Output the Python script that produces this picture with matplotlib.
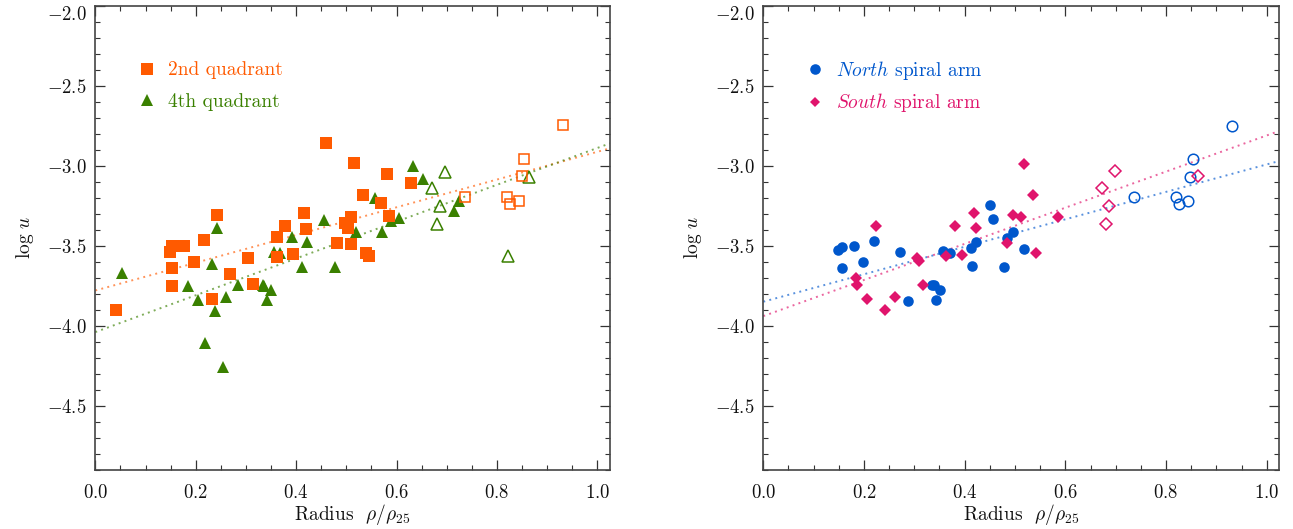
import numpy as np
import matplotlib
matplotlib.use('Agg')
import matplotlib.pyplot as plt
from matplotlib.ticker import MultipleLocator, FixedLocator, FuncFormatter
from matplotlib.lines import Line2D

plt.rcParams.update({
    'font.family': 'cmr10',
    'mathtext.fontset': 'cm',
    'axes.formatter.use_mathtext': True,
    'axes.unicode_minus': False,
})

# ---------------- data ----------------
# left panel: 2nd quadrant (filled / open squares)
q2_r = [0.042, 0.149, 0.153, 0.177, 0.153, 0.153, 0.197, 0.217, 0.243, 0.233,
        0.269, 0.305, 0.315, 0.361, 0.361, 0.378, 0.394, 0.416, 0.420, 0.460,
        0.482, 0.516, 0.580, 0.629, 0.534, 0.568, 0.510, 0.497, 0.504, 0.584,
        0.510, 0.540, 0.546]
q2_logu = [-3.904, -3.541, -3.500, -3.504, -3.641, -3.754, -3.604, -3.466, -3.310, -3.831,
           -3.679, -3.579, -3.741, -3.448, -3.569, -3.379, -3.554, -3.298, -3.394, -2.860,
           -3.485, -2.985, -3.054, -3.110, -3.185, -3.235, -3.323, -3.360, -3.391, -3.316,
           -3.491, -3.548, -3.566]
q2_open_r = [0.932, 0.854, 0.849, 0.736, 0.820, 0.826, 0.844]
q2_open_logu = [-2.748, -2.956, -3.066, -3.194, -3.194, -3.239, -3.223]

# left panel: 4th quadrant (filled / open triangles)
q4_r = [0.054, 0.185, 0.204, 0.219, 0.233, 0.239, 0.243, 0.260, 0.255, 0.284,
        0.333, 0.336, 0.349, 0.341, 0.356, 0.368, 0.391, 0.412, 0.422, 0.455,
        0.478, 0.632, 0.653, 0.557, 0.725, 0.714, 0.589, 0.605, 0.519, 0.571]
q4_logu = [-3.673, -3.750, -3.839, -4.110, -3.614, -3.906, -3.388, -3.819, -4.256, -3.746,
           -3.746, -3.752, -3.777, -3.839, -3.538, -3.548, -3.448, -3.631, -3.475, -3.339,
           -3.635, -3.000, -3.083, -3.202, -3.221, -3.283, -3.346, -3.327, -3.413, -3.414]
q4_open_r = [0.697, 0.671, 0.687, 0.680, 0.821, 0.863]
q4_open_logu = [-3.038, -3.141, -3.250, -3.366, -3.564, -3.069]

# right panel: North spiral arm (filled / open circles)
north_r = [0.149, 0.156, 0.156, 0.180, 0.199, 0.220, 0.271, 0.287, 0.335, 0.340,
           0.351, 0.343, 0.357, 0.370, 0.412, 0.414, 0.423, 0.450, 0.456, 0.479,
           0.484, 0.497, 0.518]
north_logu = [-3.527, -3.506, -3.641, -3.502, -3.602, -3.469, -3.539, -3.844, -3.744, -3.748,
              -3.777, -3.839, -3.533, -3.548, -3.516, -3.627, -3.477, -3.246, -3.335, -3.633,
              -3.452, -3.414, -3.519]
north_open_r = [0.931, 0.853, 0.848, 0.736, 0.819, 0.825, 0.844]
north_open_logu = [-2.750, -2.956, -3.069, -3.194, -3.194, -3.239, -3.223]

# right panel: South spiral arm (filled / open diamonds)
south_r = [0.185, 0.187, 0.206, 0.223, 0.241, 0.262, 0.305, 0.309, 0.317, 0.362,
           0.380, 0.395, 0.418, 0.423, 0.484, 0.497, 0.511, 0.517, 0.535, 0.586,
           0.541]
south_logu = [-3.702, -3.748, -3.835, -3.377, -3.904, -3.819, -3.580, -3.596, -3.744, -3.564,
              -3.379, -3.556, -3.298, -3.389, -3.485, -3.306, -3.323, -2.988, -3.185, -3.319,
              -3.546]
south_open_r = [0.698, 0.672, 0.687, 0.680, 0.864]
south_open_logu = [-3.033, -3.138, -3.250, -3.363, -3.064]

# linear fits: (intercept, slope)
fit_q2 = (-3.78, 0.867)
fit_q4 = (-4.04, 1.151)
fit_north = (-3.85, 0.858)
fit_south = (-3.94, 1.129)

legend_left = ['2nd quadrant', '4th quadrant']
legend_right = [r'$\mathit{North}$ spiral arm', r'$\mathit{South}$ spiral arm']

xticks = [0.0, 0.2, 0.4, 0.6, 0.8, 1.0]
yticks = [-4.5, -4.0, -3.5, -3.0, -2.5, -2.0]

ORANGE = '#ff5a00'
GREEN = '#3a8000'
BLUE = '#0057cc'
PINK = '#e0146c'

# ---------------- figure ----------------
W, H = 1293, 529
fig = plt.figure(figsize=(W / 100, H / 100), dpi=100)
top_px, bot_px = 5.7, 469.7
ax1 = fig.add_axes([95.3 / W, 1 - bot_px / H, (610 - 95.3) / W, (bot_px - top_px) / H])
ax2 = fig.add_axes([763.3 / W, 1 - bot_px / H, (1279.3 - 763.3) / W, (bot_px - top_px) / H])

fmt = FuncFormatter(lambda v, p: r'$%.1f$' % v)


def style(ax):
    ax.set_xlim(0, 1.025)
    ax.set_ylim(-4.9, -2.0)
    ax.xaxis.set_major_locator(FixedLocator(xticks))
    ax.xaxis.set_minor_locator(MultipleLocator(0.05))
    ax.yaxis.set_major_locator(FixedLocator(yticks))
    ax.yaxis.set_minor_locator(MultipleLocator(0.1))
    ax.xaxis.set_major_formatter(fmt)
    ax.yaxis.set_major_formatter(fmt)
    ax.tick_params(which='both', direction='in', top=True, right=True,
                   color='#333333', labelsize=13.5, labelcolor='#111111')
    ax.tick_params(which='major', length=7.2, width=0.9)
    ax.tick_params(which='minor', length=3.6, width=0.8)
    ax.tick_params(axis='x', which='both', pad=10)
    ax.tick_params(axis='y', which='both', pad=6)
    for s in ax.spines.values():
        s.set_linewidth(1.2)
        s.set_color('#444444')
    ax.set_xlabel(r'Radius  $\rho/\rho_{25}$', fontsize=14, labelpad=0, color='#111111')
    ax.set_ylabel(r'$\log\,u$', fontsize=14, labelpad=8, color='#111111')
    ticks = ax.yaxis.get_major_ticks()
    ticks[-1].label1.set_verticalalignment('top')


def fitline(ax, fit, color):
    xl = np.array(ax.get_xlim())
    ax.plot(xl, fit[0] + fit[1] * xl, ls=(0, (1, 2.2)), lw=1.4, color=color,
            alpha=0.65, zorder=1)


for ax in (ax1, ax2):
    style(ax)

# left panel
fitline(ax1, fit_q2, ORANGE)
fitline(ax1, fit_q4, GREEN)
ax1.plot(q4_r, q4_logu, '^', ms=8.5, color=GREEN, mew=0, zorder=3)
ax1.plot(q4_open_r, q4_open_logu, '^', ms=8.5, mfc='none', mec=GREEN, mew=1.1, zorder=3)
ax1.plot(q2_r, q2_logu, 's', ms=8.2, color=ORANGE, mew=0, zorder=4)
ax1.plot(q2_open_r, q2_open_logu, 's', ms=7.3, mfc='none', mec=ORANGE, mew=1.1, zorder=4)

h1 = [Line2D([], [], marker='s', ls='none', color=ORANGE, ms=8, mew=0),
      Line2D([], [], marker='^', ls='none', color=GREEN, ms=8.5, mew=0)]
ax1.legend(h1, legend_left, loc='upper left', bbox_to_anchor=(0.0855, 0.880),
           frameon=False, fontsize=14, handlelength=0.8, handletextpad=0.65,
           labelspacing=0.68, borderpad=0, borderaxespad=0, labelcolor=[ORANGE, GREEN])

# right panel
fitline(ax2, fit_north, BLUE)
fitline(ax2, fit_south, PINK)
ax2.plot(north_r, north_logu, 'o', ms=7.6, color=BLUE, mew=0, zorder=3)
ax2.plot(north_open_r, north_open_logu, 'o', ms=7.6, mfc='none', mec=BLUE, mew=1.1, zorder=3)
ax2.plot(south_r, south_logu, 'D', ms=6.4, color=PINK, mew=0, zorder=4)
ax2.plot(south_open_r, south_open_logu, 'D', ms=6.4, mfc='none', mec=PINK, mew=1.1, zorder=4)

h2 = [Line2D([], [], marker='o', ls='none', color=BLUE, ms=7.6, mew=0),
      Line2D([], [], marker='D', ls='none', color=PINK, ms=5.6, mew=0)]
ax2.legend(h2, legend_right, loc='upper left', bbox_to_anchor=(0.0857, 0.886),
           frameon=False, fontsize=14, handlelength=0.8, handletextpad=0.65,
           labelspacing=0.5, borderpad=0, borderaxespad=0, labelcolor=[BLUE, PINK])

fig.savefig('out.png', dpi=100)
